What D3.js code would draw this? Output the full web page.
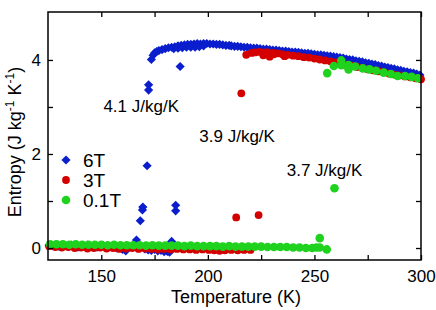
<!DOCTYPE html>
<html>
<head>
<meta charset="utf-8">
<script src="https://cdn.jsdelivr.net/npm/d3@7"></script>
<style>
	body { margin: 0; background: #fff; }
	svg text { font-family: 'Liberation Sans', Arial, sans-serif; fill: #000; }
</style>
</head>
<body>
<svg id="chart" width="436" height="310"></svg>
<script>

// 6T (blue diamonds)
let tempSix = [
	125.5, 127, 128.5, 130, 131.5, 133, 134.5, 136, 137.5, 139, 140.5, 142, 143.5, 145, 146.5, 148,
	149.5, 151, 152.5, 154, 155.5, 157, 158.5, 160, 161.5, 163, 164.5, 166.5, 168, 168.3, 169.3, 169.5,
	170.5, 171.5, 172.2, 172.2, 172, 173.5, 175, 176.5, 178, 179.5, 181, 182, 183, 184.9, 184.9, 187,
	173.5, 174.3, 175, 176, 177, 178.5, 180, 181.5, 183, 184.5, 186, 187.5, 189, 190.5, 192, 193.5,
	195, 196.5, 198, 199.5, 201, 202.5, 204, 205.5, 207, 208.5, 210, 184, 186, 188, 190, 192, 194, 196, 198,
	211, 212.5, 214, 215.5, 217, 218.5, 220, 221.5, 223, 224.5, 226, 227.5, 229, 230.5, 232, 233.5,
	235, 236.5, 238, 239.5, 241, 242.5, 244, 245.5, 247, 248.5, 250, 251.5, 253, 254.5, 256, 257.5,
	259, 260.5, 262, 263.5, 265, 266.5, 268, 269.5, 271, 272.5, 274, 275.5, 277, 278.5, 280, 281.5,
	283, 284.5, 286, 287.5, 289, 290.5, 292, 293.5, 295, 296.5, 298, 299.5
];
let entropySix = [
	0.06, 0.05, 0.07, 0.04, 0.06, 0.05, 0.03, 0.06, 0.05, 0.02, 0.05, 0.04, 0.06, 0.03, 0.05, 0.02,
	0.04, 0.05, 0.01, 0.03, 0.04, 0.0, 0.02, -0.03, -0.06, 0.02, 0.04, 0.17, 0.03, 0.58, 0.81, 0.87,
	-0.02, 1.75, 3.36, 3.47, -0.04, -0.05, -0.03, -0.06, -0.05, -0.08, -0.07, -0.09, 0.14, 0.79, 0.91, 3.86,
	4.01, 4.1, 4.15, 4.18, 4.2, 4.22, 4.24, 4.26, 4.27, 4.28, 4.3, 4.31, 4.32, 4.33, 4.33, 4.34,
	4.35, 4.34, 4.35, 4.35, 4.34, 4.34, 4.33, 4.33, 4.32, 4.31, 4.31, 4.24, 4.25, 4.26, 4.27, 4.27, 4.27, 4.28, 4.3,
	4.30, 4.29, 4.29, 4.28, 4.27, 4.27, 4.26, 4.25, 4.25, 4.24, 4.23, 4.23, 4.22, 4.21, 4.21, 4.2,
	4.19, 4.19, 4.18, 4.17, 4.17, 4.16, 4.15, 4.14, 4.14, 4.13, 4.12, 4.11, 4.11, 4.1, 4.09, 4.08,
	4.07, 4.06, 4.05, 4.04, 4.02, 4.01, 4.0, 3.98, 3.97, 3.96, 3.94, 3.93, 3.91, 3.9, 3.88, 3.87,
	3.85, 3.84, 3.82, 3.81, 3.79, 3.78, 3.76, 3.75, 3.73, 3.72, 3.7, 3.68
];

// 3T (red circles)
let tempThree = [
	125.5, 128.5, 131.5, 134.5, 137.5, 140.5, 143.5, 146.5, 149.5, 152.5, 155.5, 158.5, 161.5, 164.5,
	167.5, 170.5, 173.5, 176.5, 179.5, 182.5, 185.5, 188.5, 191.5, 194.5, 197.5, 200.5, 203, 205.5,
	208, 211, 214, 217, 220, 213.3, 223.8, 215.7,
	218, 220.5, 222, 224, 226, 226.5, 228, 229, 230.5, 231, 233, 235, 236, 237.5, 240, 242.5, 245,
	247.5, 250, 252.5, 255, 257.5, 260, 262.5, 265, 267.5, 270, 272.5, 275, 277.5, 280, 282.5,
	285, 287.5, 290, 292.5, 295, 297.5, 300
];
let entropyThree = [
	0.04, 0.02, 0.01, 0.02, 0.0, 0.01, -0.01, 0.0, 0.01, -0.01, 0.0, -0.02, -0.01, 0.0,
	-0.02, -0.01, -0.02, -0.03, -0.02, -0.03, -0.02, -0.03, -0.03, -0.04, -0.03, -0.04, -0.05, -0.06,
	-0.05, -0.04, -0.05, -0.04, -0.04, 0.65, 0.70, 3.29,
	4.11, 4.15, 4.16, 4.17, 4.1, 4.16, 4.16, 4.07, 4.15, 4.12, 4.14, 4.12, 4.08, 4.11, 4.09, 4.08, 4.06,
	4.05, 4.03, 4.01, 3.99, 3.97, 3.95, 3.93, 3.9, 3.88, 3.85, 3.83, 3.8, 3.78, 3.76, 3.74,
	3.71, 3.69, 3.67, 3.65, 3.63, 3.61, 3.59
];

// 0.1T (green circles)
let tempTenth = [
	126, 129, 132, 135, 138, 141, 144, 147, 150, 153, 156, 159, 162, 165, 168, 171, 174, 177, 180,
	183, 186, 189, 192, 195, 198, 201, 204, 207, 210, 213, 216, 219, 222, 225, 228, 231, 234, 237,
	240, 243, 246, 249, 251, 252.5, 252.5, 255.8, 259.4,
	256, 259.1, 262.6, 262.6, 266, 266, 269.1, 272.7, 275.8, 278.9, 282.5, 285.9, 289, 292.5, 295.6, 298.5
];
let entropyTenth = [
	0.08, 0.08, 0.08, 0.07, 0.08, 0.07, 0.07, 0.07, 0.07, 0.06, 0.07, 0.06, 0.06, 0.06, 0.06, 0.05, 0.06, 0.05, 0.05,
	0.05, 0.05, 0.04, 0.05, 0.04, 0.04, 0.04, 0.04, 0.03, 0.04, 0.03, 0.03, 0.03, 0.03, 0.03, 0.02, 0.02, 0.02, 0.02,
	0.01, 0.01, 0.0, 0.0, 0.01, 0.21, 0.01, -0.03, 1.27,
	3.72, 3.87, 3.99, 3.89, 3.89, 3.8, 3.86, 3.82, 3.8, 3.77, 3.73, 3.7, 3.66, 3.66, 3.64, 3.61
];

let seriesNames = ['6T', '3T', '0.1T'];
let seriesColors = ['#0a1ecd', '#d40000', '#1ed21e'];

let xTicks = [150, 175, 200, 225, 250, 275, 300];
let xTickLabels = [150, 200, 250, 300];
let yTicks = [0, 1, 2, 3, 4];
let yTickLabels = [0, 2, 4];

let annotations = [
	{ text: '4.1 J/kg/K', t: 151, s: 2.89 },
	{ text: '3.9 J/kg/K', t: 196, s: 2.26 },
	{ text: '3.7 J/kg/K', t: 237, s: 1.53 }
];

let svgObj = d3.select('#chart');
let plotL = 48, plotR = 421, plotT = 12, plotB = 260;

let xScale = d3.scaleLinear().domain([125, 300]).range([plotL, plotR]);
let yScale = d3.scaleLinear().domain([-0.255, 5.02]).range([plotB, plotT]);

function pairs(ts, ss) {
	return ts.map((t, i) => [t, ss[i]]);
}

// markers: blue first, then red, green on top
// diamond = square turned 45 degrees (d3.symbolDiamond is too narrow)
let diamond = d3.symbol().type(d3.symbolSquare).size(42);

svgObj.append('g').selectAll('path')
	.data(pairs(tempSix, entropySix))
	.join('path')
	.attr('d', diamond)
	.attr('transform', d => `translate(${xScale(d[0])},${yScale(d[1])}) rotate(45)`)
	.attr('fill', seriesColors[0]);

svgObj.append('g').selectAll('circle')
	.data(pairs(tempThree, entropyThree))
	.join('circle')
	.attr('cx', d => xScale(d[0]))
	.attr('cy', d => yScale(d[1]))
	.attr('r', 3.9)
	.attr('fill', seriesColors[1]);

svgObj.append('g').selectAll('circle')
	.data(pairs(tempTenth, entropyTenth))
	.join('circle')
	.attr('cx', d => xScale(d[0]))
	.attr('cy', d => yScale(d[1]))
	.attr('r', 4.3)
	.attr('fill', seriesColors[2]);

// frame with inward ticks on all sides
let tickFmt = (list) => (d => list.includes(d) ? d : '');
let axes = [
	d3.axisBottom(xScale).tickValues(xTicks).tickFormat(tickFmt(xTickLabels)),
	d3.axisTop(xScale).tickValues(xTicks).tickFormat(''),
	d3.axisLeft(yScale).tickValues(yTicks).tickFormat(tickFmt(yTickLabels)),
	d3.axisRight(yScale).tickValues(yTicks).tickFormat('')
];
let offsets = [`translate(0,${plotB})`, `translate(0,${plotT})`, `translate(${plotL},0)`, `translate(${plotR},0)`];
axes.forEach((ax, i) => {
	let g = svgObj.append('g')
		.attr('transform', offsets[i])
		.call(ax.tickSizeInner(-5).tickSizeOuter(0).tickPadding(i == 0 ? 10 : 7));
	g.select('.domain').remove();
	g.selectAll('line').attr('stroke', '#000').attr('stroke-width', 1.3);
	g.selectAll('text').attr('font-size', 17).attr('font-family', 'Liberation Sans, Arial, sans-serif');
});
svgObj.append('rect')
	.attr('x', plotL).attr('y', plotT)
	.attr('width', plotR - plotL).attr('height', plotB - plotT)
	.attr('fill', 'none').attr('stroke', '#000').attr('stroke-width', 1.5);

// axis titles
svgObj.append('text')
	.attr('x', 236).attr('y', 303)
	.attr('text-anchor', 'middle')
	.attr('font-size', 18)
	.text('Temperature (K)');

let yTitle = svgObj.append('text')
	.attr('transform', 'translate(21,142) rotate(-90)')
	.attr('text-anchor', 'middle')
	.attr('font-size', 18);
yTitle.append('tspan').text('Entropy (J kg');
yTitle.append('tspan').attr('dy', -7).attr('font-size', 12).text('-1');
yTitle.append('tspan').attr('dy', 7).text(' K');
yTitle.append('tspan').attr('dy', -7).attr('font-size', 12).text('-1');
yTitle.append('tspan').attr('dy', 7).text(')');

// annotations
svgObj.append('g').selectAll('text')
	.data(annotations)
	.join('text')
	.attr('x', d => xScale(d.t))
	.attr('y', d => yScale(d.s))
	.attr('font-size', 17)
	.text(d => d.text);

// legend
let legend = svgObj.append('g').attr('transform', 'translate(66,160)');
seriesNames.forEach((name, idx) => {
	let row = legend.append('g').attr('transform', `translate(0,${idx * 20})`);
	if (idx == 0) {
		row.append('path').attr('d', diamond).attr('transform', 'rotate(45)').attr('fill', seriesColors[idx]);
	} else {
		row.append('circle').attr('r', idx == 1 ? 3.9 : 4.3).attr('fill', seriesColors[idx]);
	}
	row.append('text')
		.attr('x', 17).attr('y', 6.5)
		.attr('font-size', 19)
		.text(name);
});
</script>
</body>
</html>
